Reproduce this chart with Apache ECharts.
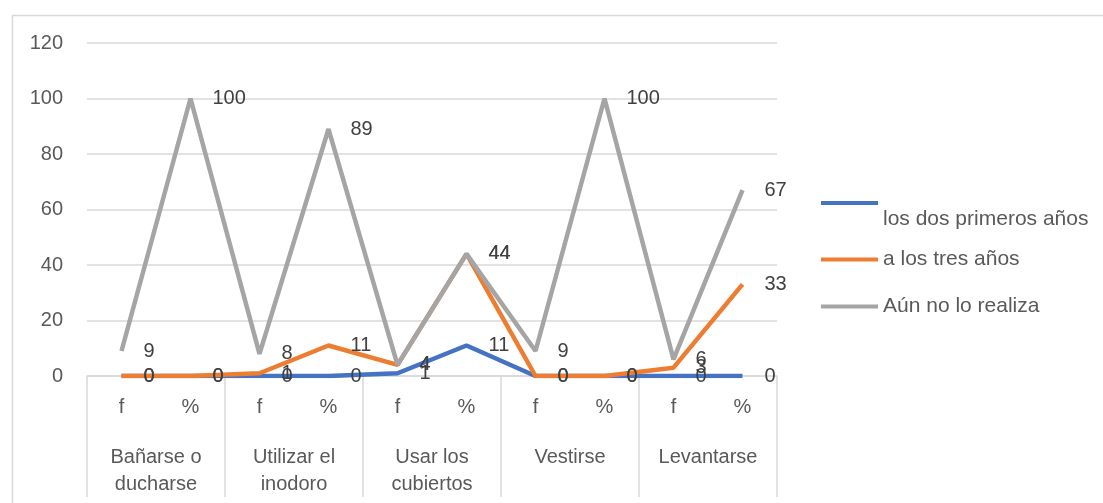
<!DOCTYPE html>
<html>
<head>
<meta charset="utf-8">
<script src="https://cdn.jsdelivr.net/npm/echarts@6/dist/echarts.min.js"></script>
<style>
  html, body { margin: 0; padding: 0; background: #fff; }
  #chart { width: 1103px; height: 503px; }
</style>
</head>
<body>
<div id="chart"></div>
<script>
// columns: f / % for each activity
const columnas = ['f', '%', 'f', '%', 'f', '%', 'f', '%', 'f', '%'];
const actividades = ['Bañarse o\nducharse', 'Utilizar el\ninodoro', 'Usar los\ncubiertos', 'Vestirse', 'Levantarse'];

const nombres = ['los dos primeros años', 'a los tres años', 'Aún no lo realiza'];
const dosPrimeros = [0, 0, 0, 0, 1, 11, 0, 0, 0, 0];
const tresAnios = [0, 0, 1, 11, 4, 44, 0, 0, 3, 33];
const aunNo = [9, 100, 8, 89, 4, 44, 9, 100, 6, 67];

const yTicks = { min: 0, max: 120, interval: 20 };

const fuente = 'Liberation Sans';
const gris = '#595959';

function serie(nombre, datos, color) {
    return {
        name: nombre,
        type: 'line',
        data: datos,
        symbol: 'circle',
        symbolSize: 0,
        lineStyle: { width: 4.5, color: color },
        itemStyle: { color: color },
        label: {
            show: true,
            position: 'right',
            distance: 22,
            color: '#404040',
            fontSize: 20,
            fontFamily: fuente
        },
        labelLayout: { hideOverlap: false }
    };
}

// one legend per entry, placed like the original
function leyenda(nombre, top, formatter) {
    let l = {
        orient: 'vertical',
        left: 816,
        top: top,
        itemWidth: 57,
        itemHeight: 4,
        icon: 'rect',
        data: [nombre],
        textStyle: {
            color: gris, fontSize: 21, fontFamily: fuente,
            rich: { sp: { lineHeight: 32, fontSize: 21 } }
        }
    };
    if (formatter) l.formatter = formatter;
    return l;
}

let option = {
    animation: false,
    graphic: [{
        type: 'rect',
        left: 10,
        top: 13,
        shape: { width: 1200, height: 600 },
        style: { fill: 'none', stroke: '#d9d9d9', lineWidth: 1.5 },
        silent: true
    }],
    grid: { left: 87, right: 326, top: 43, bottom: 127 },
    legend: [
        // first entry sits below its line in the original
        leyenda(nombres[0], 177, n => '{sp| }\n' + n),
        leyenda(nombres[1], 244),
        leyenda(nombres[2], 291)
    ],
    xAxis: [{
        type: 'category',
        data: columnas,
        boundaryGap: true,
        axisLine: { show: true, lineStyle: { color: '#d9d9d9', width: 1.5 } },
        axisTick: { show: false },
        axisLabel: { color: gris, fontSize: 20, fontFamily: fuente, margin: 21 }
    }, {
        type: 'category',
        data: actividades,
        position: 'bottom',
        boundaryGap: true,
        axisLine: { show: false },
        axisTick: { show: true, length: 121, lineStyle: { color: '#d9d9d9', width: 1.5 } },
        axisLabel: { color: gris, fontSize: 20, fontFamily: fuente, margin: 68, lineHeight: 27 }
    }],
    yAxis: {
        type: 'value',
        min: yTicks.min,
        max: yTicks.max,
        interval: yTicks.interval,
        axisLine: { show: false },
        axisTick: { show: false },
        splitLine: { lineStyle: { color: '#d9d9d9', width: 1.5 } },
        axisLabel: { color: gris, fontSize: 20, fontFamily: fuente, margin: 24 }
    },
    series: [
        serie(nombres[0], dosPrimeros, '#4472C4'),
        serie(nombres[1], tresAnios, '#ED7D31'),
        serie(nombres[2], aunNo, '#A5A5A5')
    ]
};

let chartDom = document.getElementById('chart');
let myChart = echarts.init(chartDom);
myChart.setOption(option);
</script>
</body>
</html>
